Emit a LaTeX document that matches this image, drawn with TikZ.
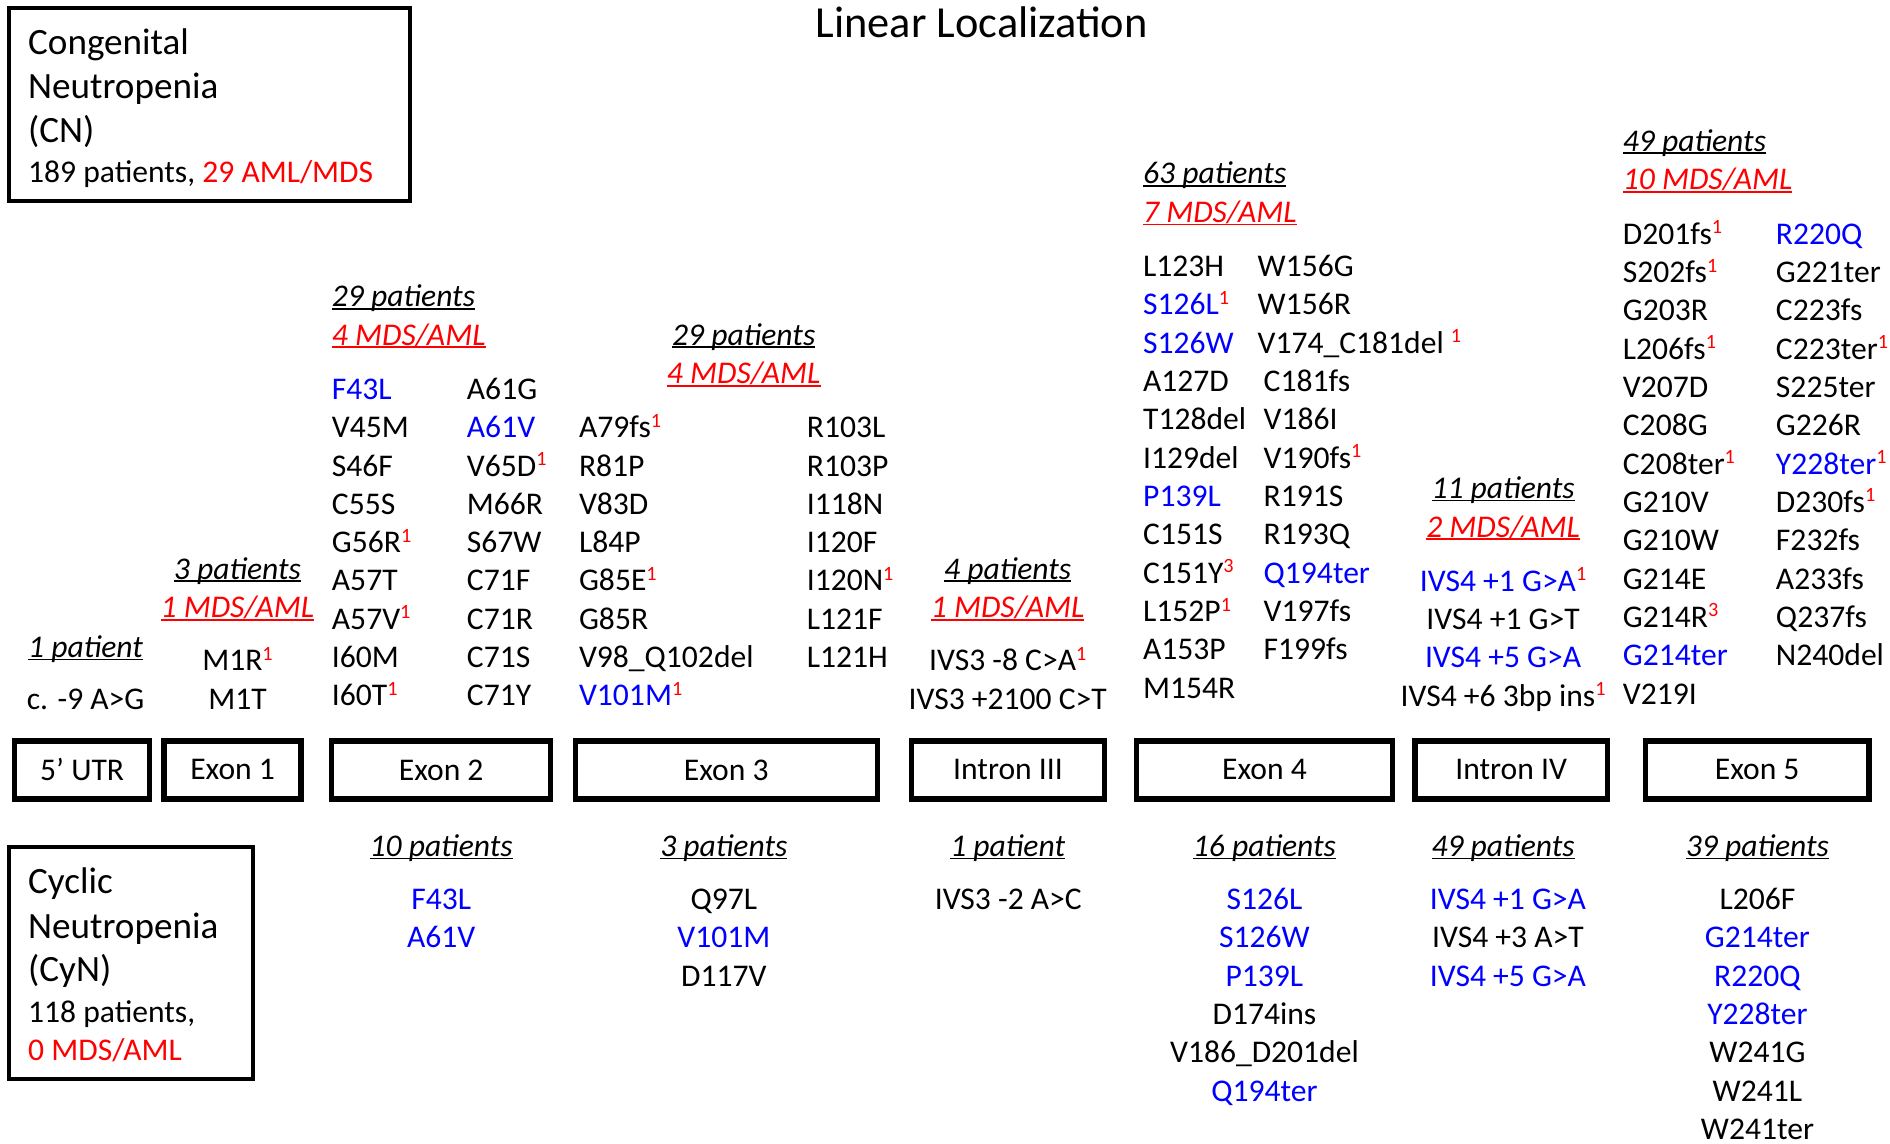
\documentclass[tikz,border=0pt]{standalone}
\usepackage{fontspec}
\setmainfont{Carlito}
\definecolor{mblue}{RGB}{0,0,255}
\definecolor{mred}{RGB}{255,0,0}
\newcommand\mutfont{\fontsize{13.1}{15.9}\selectfont}
\newcommand\bigfont{\fontsize{15.4}{18}\selectfont}
\newcommand\titlefont{\fontsize{18.4}{22}\selectfont}
\newcommand\rsup[1]{\raisebox{0.33em}{\fontsize{8.4}{8.4}\selectfont\textcolor{mred}{#1}}}
\newcommand\uln[1]{{\setbox0\hbox{#1}\rlap{\rule[-0.09em]{\wd0}{0.055em}}\box0}}
\tikzset{
  mut/.style={font=\mutfont, inner sep=0pt, anchor=base west},
  mutc/.style={font=\mutfont, inner sep=0pt, anchor=base},
  hdr/.style={font=\mutfont\itshape, inner sep=0pt, anchor=base west},
  hdrc/.style={font=\mutfont\itshape, inner sep=0pt, anchor=base},
  big/.style={font=\bigfont, inner sep=0pt, anchor=base west},
  genebox/.style={draw, line width=2.2pt, inner sep=0pt, minimum height=24.05pt, font=\mutfont, rectangle},
  lbox/.style={draw, line width=1.65pt, inner sep=0pt, rectangle},
}
\newcommand\mcol[6]{% name, x, baseline0, pitch, style, list
  \foreach \cl/\tx [count=\i from 0] in {#6} {
    \node[#5, text=\cl] (#1\i) at (#2, #3+\i*#4) {\tx};
  }}
\begin{document}
\begin{tikzpicture}[x=0.5pt,y=-0.5pt]
\useasboundingbox (0,0) rectangle (1568,949);

% title
\node[font=\titlefont, inner sep=0pt, anchor=base] (title) at (814.5,31) {Linear Localization};

% legend boxes
\node[lbox, minimum width=166.3pt, minimum height=80pt] (cnbox) at (173.5,86.7) {};
\node[big] (cn1) at (23,45) {Congenital};
\node[big] (cn2) at (23,82) {Neutropenia};
\node[big] (cn3) at (23,118) {(CN)};
\node[mut] (cn4) at (23,151.5) {189 patients, \textcolor{mred}{29 AML/MDS}};

\node[lbox, minimum width=101.4pt, minimum height=96.3pt] (cynbox) at (108.6,799) {};
\node[big] (cy1) at (23,741.5) {Cyclic};
\node[big] (cy2) at (23,778.5) {Neutropenia};
\node[big] (cy3) at (23,814) {(CyN)};
\node[mut] (cy4) at (23,848.5) {118 patients,};
\node[mut, text=mred] (cy5) at (23,879.5) {0 MDS/AML};

% gene structure
\node[genebox, minimum width=56.15pt] (utr) at (68.15,638.75) {5’ UTR};
\node[genebox, minimum width=56.85pt] (ex1) at (192.95,638.75) {Exon 1};
\node[genebox, minimum width=90.8pt] (ex2) at (366,638.75) {Exon 2};
\node[genebox, minimum width=125.3pt] (ex3) at (602.5,638.75) {Exon 3};
\node[genebox, minimum width=80.05pt] (in3) at (836.25,638.75) {Intron III};
\node[genebox, minimum width=106.05pt] (ex4) at (1049.05,638.75) {Exon 4};
\node[genebox, minimum width=79.8pt] (in4) at (1253.7,638.75) {Intron IV};
\node[genebox, minimum width=92.8pt] (ex5) at (1457.8,638.75) {Exon 5};

% ---- CN (top) ----
% 5' UTR
\node[hdrc] (uh1) at (71,545.5) {\uln{1 patient}};
\node[mutc] (um1) at (71,588.5) {c. -9 A>G};
% Exon 1
\node[hdrc] (x1h1) at (197,480.5) {\uln{3 patients}};
\node[hdrc, text=mred] (x1h2) at (197,512.5) {\uln{1 MDS/AML}};
\node[mutc] (x1m1) at (197,556.5) {M1R\rsup{1}};
\node[mutc] (x1m2) at (197,588.5) {M1T};
% Exon 2
\node[hdr] (x2h1) at (275,254.5) {\uln{29 patients}};
\node[hdr, text=mred] (x2h2) at (275,286.5) {\uln{4 MDS/AML}};
\mcol{x2a}{275}{331.5}{31.75}{mut}{mblue/F43L, black/V45M, black/S46F, black/C55S, black/G56R\rsup{1}, black/A57T, black/A57V\rsup{1}, black/I60M, black/I60T\rsup{1}}
\mcol{x2b}{387}{331.5}{31.75}{mut}{black/A61G, mblue/A61V, black/V65D\rsup{1}, black/M66R, black/S67W, black/C71F, black/C71R, black/C71S, black/C71Y}
% Exon 3
\node[hdrc] (x3h1) at (617,286.5) {\uln{29 patients}};
\node[hdrc, text=mred] (x3h2) at (617,318.5) {\uln{4 MDS/AML}};
\mcol{x3a}{480}{363.25}{31.75}{mut}{black/A79fs\rsup{1}, black/R81P, black/V83D, black/L84P, black/G85E\rsup{1}, black/G85R, black/V98\_Q102del, mblue/V101M\rsup{1}}
\mcol{x3b}{669}{363.25}{31.75}{mut}{black/R103L, black/R103P, black/I118N, black/I120F, black/I120N\rsup{1}, black/L121F, black/L121H}
% Intron III
\node[hdrc] (i3h1) at (836,480.5) {\uln{4 patients}};
\node[hdrc, text=mred] (i3h2) at (836,512.5) {\uln{1 MDS/AML}};
\node[mutc] (i3m1) at (836,556.5) {IVS3 -8 C>A\rsup{1}};
\node[mutc] (i3m2) at (836,588.5) {IVS3 +2100 C>T};
% Exon 4
\node[hdr] (x4h1) at (948,152.5) {\uln{63 patients}};
\node[hdr, text=mred] (x4h2) at (948,184.5) {\uln{7 MDS/AML}};
\mcol{x4a}{948}{229.5}{31.8}{mut}{black/L123H, mblue/S126L\rsup{1}, mblue/S126W, black/A127D, black/T128del, black/I129del, mblue/P139L, black/C151S, black/C151Y\rsup{3}, black/L152P\rsup{1}, black/A153P, black/M154R}
\mcol{x4b}{1043}{229.5}{31.8}{mut}{black/W156G, black/W156R, black/V174\_C181del \rsup{1}}
\mcol{x4c}{1048}{324.9}{31.8}{mut}{black/C181fs, black/V186I, black/V190fs\rsup{1}, black/R191S, black/R193Q, mblue/Q194ter, black/V197fs, black/F199fs}
% Intron IV
\node[hdrc] (i4h1) at (1247,413.5) {\uln{11 patients}};
\node[hdrc, text=mred] (i4h2) at (1247,445.5) {\uln{2 MDS/AML}};
\mcol{i4m}{1247}{490.5}{31.8}{mutc}{mblue/IVS4 +1 G>A\rsup{1}, black/IVS4 +1 G>T, mblue/IVS4 +5 G>A, black/IVS4 +6 3bp ins\rsup{1}}
% Exon 5
\node[hdr] (x5h1) at (1346,125.5) {\uln{49 patients}};
\node[hdr, text=mred] (x5h2) at (1346,157.5) {\uln{10 MDS/AML}};
\mcol{x5a}{1346}{202.5}{31.8}{mut}{black/D201fs\rsup{1}, black/S202fs\rsup{1}, black/G203R, black/L206fs\rsup{1}, black/V207D, black/C208G, black/C208ter\rsup{1}, black/G210V, black/G210W, black/G214E, black/G214R\rsup{3}, mblue/G214ter, black/V219I}
\mcol{x5b}{1473}{202.5}{31.8}{mut}{mblue/R220Q, black/G221ter, black/C223fs, black/C223ter\rsup{1}, black/S225ter, black/G226R, mblue/Y228ter\rsup{1}, black/D230fs\rsup{1}, black/F232fs, black/A233fs, black/Q237fs, black/N240del}

% ---- CyN (bottom) ----
\node[hdrc] (b2h) at (366,710.5) {\uln{10 patients}};
\mcol{b2m}{366}{754.5}{31.8}{mutc}{mblue/F43L, mblue/A61V}
\node[hdrc] (b3h) at (600.5,710.5) {\uln{3 patients}};
\mcol{b3m}{600.5}{754.5}{31.8}{mutc}{black/Q97L, mblue/V101M, black/D117V}
\node[hdrc] (bi3h) at (836,710.5) {\uln{1 patient}};
\mcol{bi3m}{836.5}{754.5}{31.8}{mutc}{black/IVS3 -2 A>C}
\node[hdrc] (b4h) at (1049,710.5) {\uln{16 patients}};
\mcol{b4m}{1049}{754.5}{31.8}{mutc}{mblue/S126L, mblue/S126W, mblue/P139L, black/D174ins, black/V186\_D201del, mblue/Q194ter}
\node[hdrc] (bi4h) at (1247,710.5) {\uln{49 patients}};
\mcol{bi4m}{1251}{754.5}{31.8}{mutc}{mblue/IVS4 +1 G>A, black/IVS4 +3 A>T, mblue/IVS4 +5 G>A}
\node[hdrc] (b5h) at (1458,710.5) {\uln{39 patients}};
\mcol{b5m}{1458}{754.5}{31.8}{mutc}{black/L206F, mblue/G214ter, mblue/R220Q, mblue/Y228ter, black/W241G, black/W241L, black/W241ter}
\end{tikzpicture}
\end{document}
